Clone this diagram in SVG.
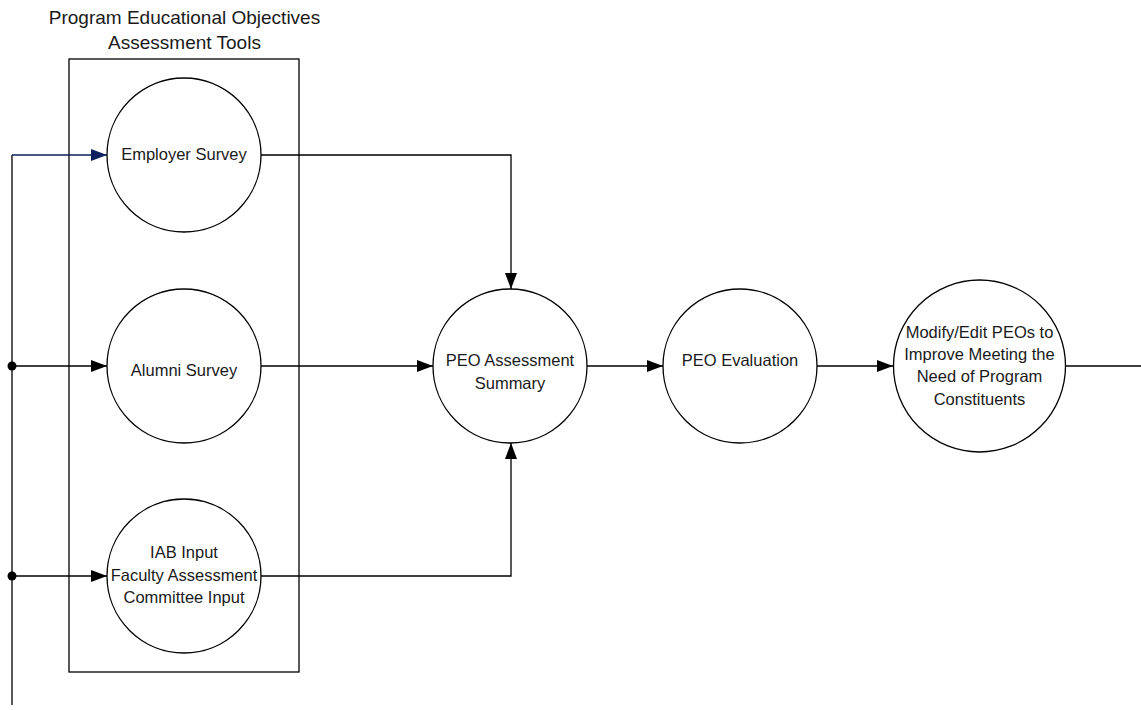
<svg xmlns="http://www.w3.org/2000/svg" width="1141" height="710" viewBox="0 0 1141 710">
<style>
.n{fill:#fff;stroke:#000;stroke-width:1.3}
.t{font-family:"Liberation Sans",Arial,sans-serif;font-size:16.5px;fill:#1a1a1a;text-anchor:middle}
.h{font-family:"Liberation Sans",Arial,sans-serif;font-size:19px;fill:#1a1a1a;text-anchor:middle}
.c{fill:none;stroke:#000;stroke-width:1.3}
</style>
<defs>
<marker id="a" markerWidth="16" markerHeight="12" refX="16" refY="6" orient="auto" markerUnits="userSpaceOnUse"><path d="M0,0 L16,6 L0,12 Z" fill="#000"/></marker>
<marker id="b" markerWidth="16" markerHeight="12" refX="16" refY="6" orient="auto" markerUnits="userSpaceOnUse"><path d="M0,0 L16,6 L0,12 Z" fill="#0d1f5c"/></marker>
</defs>
<g id="container">
<rect x="69" y="59" width="230" height="613" fill="none" stroke="#000" stroke-width="1.3"/>
<text class="h" x="184.5" y="24">Program Educational Objectives</text>
<text class="h" x="184.5" y="49">Assessment Tools</text>
</g>
<g id="connectors">
<line x1="12" y1="155" x2="12" y2="705" class="c"/>
<polyline points="12,155 107,155" fill="none" stroke="#0d1f5c" stroke-width="1.3" marker-end="url(#b)"/>
<line x1="12" y1="366" x2="107" y2="366" class="c" marker-end="url(#a)"/>
<line x1="12" y1="576" x2="107" y2="576" class="c" marker-end="url(#a)"/>
<circle cx="12" cy="366" r="4.5" fill="#000"/>
<circle cx="12" cy="576" r="4.5" fill="#000"/>
<polyline points="261,155 511,155 511,289" class="c" marker-end="url(#a)"/>
<line x1="261" y1="366" x2="433" y2="366" class="c" marker-end="url(#a)"/>
<polyline points="261,576 511,576 511,443" class="c" marker-end="url(#a)"/>
<line x1="587" y1="366" x2="663" y2="366" class="c" marker-end="url(#a)"/>
<line x1="817" y1="366" x2="893" y2="366" class="c" marker-end="url(#a)"/>
<line x1="1066" y1="366" x2="1141" y2="366" class="c"/>
</g>
<g id="employer">
<circle class="n" cx="184" cy="155" r="77"/>
<text class="t" x="184" y="160">Employer Survey</text>
</g>
<g id="alumni">
<circle class="n" cx="184" cy="366" r="77"/>
<text class="t" x="184" y="376">Alumni Survey</text>
</g>
<g id="iab">
<circle class="n" cx="184" cy="576" r="77"/>
<text class="t" x="184" y="558">IAB Input</text>
<text class="t" x="184" y="581">Faculty Assessment</text>
<text class="t" x="184" y="603">Committee Input</text>
</g>
<g id="summary">
<circle class="n" cx="510" cy="366" r="77"/>
<text class="t" x="510" y="366">PEO Assessment</text>
<text class="t" x="510" y="389">Summary</text>
</g>
<g id="evaluation">
<circle class="n" cx="740" cy="366" r="77"/>
<text class="t" x="740" y="366">PEO Evaluation</text>
</g>
<g id="modify">
<circle class="n" cx="979.5" cy="366" r="86"/>
<text class="t" x="979.5" y="338">Modify/Edit PEOs to</text>
<text class="t" x="979.5" y="360">Improve Meeting the</text>
<text class="t" x="979.5" y="382">Need of Program</text>
<text class="t" x="979.5" y="405">Constituents</text>
</g>
</svg>
